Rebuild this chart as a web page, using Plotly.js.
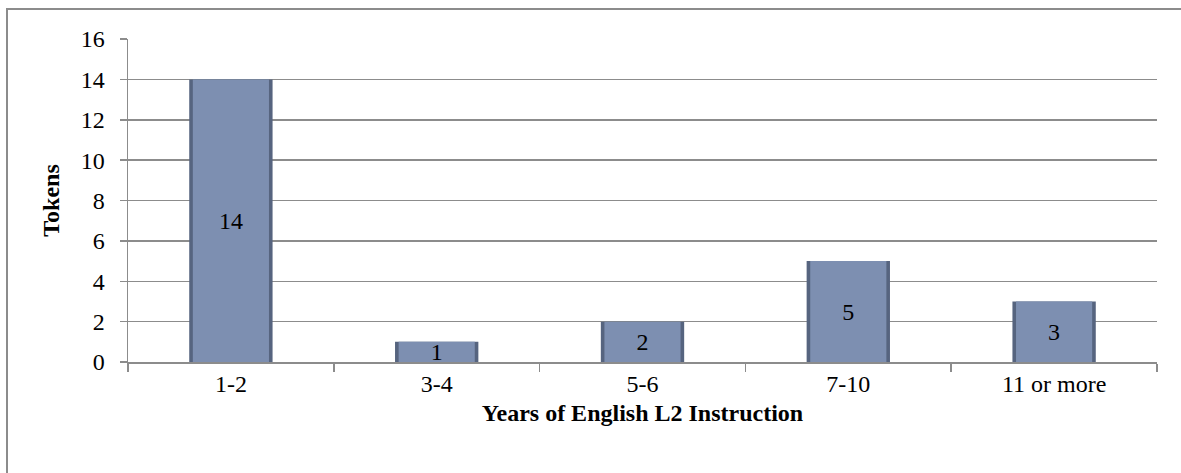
<!DOCTYPE html>
<html>
<head>
<meta charset="utf-8">
<script src="https://cdn.plot.ly/plotly-3.0.1.min.js"></script>
<style>
  html, body { margin: 0; padding: 0; background: #fff; overflow: hidden; }
  #frame { position: absolute; left: 6px; top: 8px; width: 1300px; height: 600px;
           border-left: 2px solid #8c8c8c; border-top: 2px solid #8c8c8c; pointer-events: none; z-index: 5; }
  #chart { position: absolute; left: 0; top: 0; width: 1181px; height: 473px; }
</style>
</head>
<body>
<div id="chart"></div>
<div id="frame"></div>
<script>
const categories = ["1-2", "3-4", "5-6", "7-10", "11 or more"];
const tokens = [14, 1, 2, 5, 3];
const yTickValues = [0, 2, 4, 6, 8, 10, 12, 14, 16];

const serif = "Liberation Serif";

const edgeTrace = {
  type: "bar", x: categories, y: tokens, width: 0.405,
  marker: { color: "#56647f", line: { width: 0 } },
  hoverinfo: "skip", showlegend: false
};
const faceTrace = {
  type: "bar", x: categories, y: tokens, width: 0.37,
  marker: { color: "#7d8fb1", line: { width: 0 } },
  text: tokens.map(String), textposition: "inside", insidetextanchor: "middle",
  textangle: 0, constraintext: "none",
  textfont: { family: serif, size: 24, color: "#000" },
  showlegend: false, cliponaxis: false
};

const layout = {
  width: 1181, height: 473,
  margin: { l: 128, r: 24, t: 39, b: 111 },
  paper_bgcolor: "#fff", plot_bgcolor: "#fff",
  barmode: "overlay",
  uniformtext: { mode: "show", minsize: 24 },
  font: { family: serif, size: 24, color: "#000" },
  xaxis: {
    type: "category", tickson: "boundaries", ticks: "outside", ticklen: 8,
    tickcolor: "#8c8c8c", tickwidth: 1.5,
    showline: true, linecolor: "#8c8c8c", linewidth: 1.5,
    showgrid: false, zeroline: false,
    tickfont: { family: serif, size: 24, color: "#000" },
    title: { text: "<b>Years of English L2 Instruction</b>", font: { family: serif, size: 24, color: "#000" }, standoff: 8 }
  },
  yaxis: {
    range: [0, 16], tickvals: yTickValues, ticktext: yTickValues.map(String),
    ticks: "outside", ticklen: 7, tickcolor: "#8c8c8c", tickwidth: 1.5,
    ticklabelstandoff: 10,
    showline: true, linecolor: "#8c8c8c", linewidth: 1.5,
    showgrid: true, gridcolor: "#8c8c8c", gridwidth: 1.5, zeroline: false,
    tickfont: { family: serif, size: 24, color: "#000" },
    title: { text: "<b>Tokens</b>", font: { family: serif, size: 24, color: "#000" }, standoff: 14 }
  }
};

Plotly.newPlot("chart", [edgeTrace, faceTrace], layout, { staticPlot: true, displayModeBar: false });
</script>
</body>
</html>
